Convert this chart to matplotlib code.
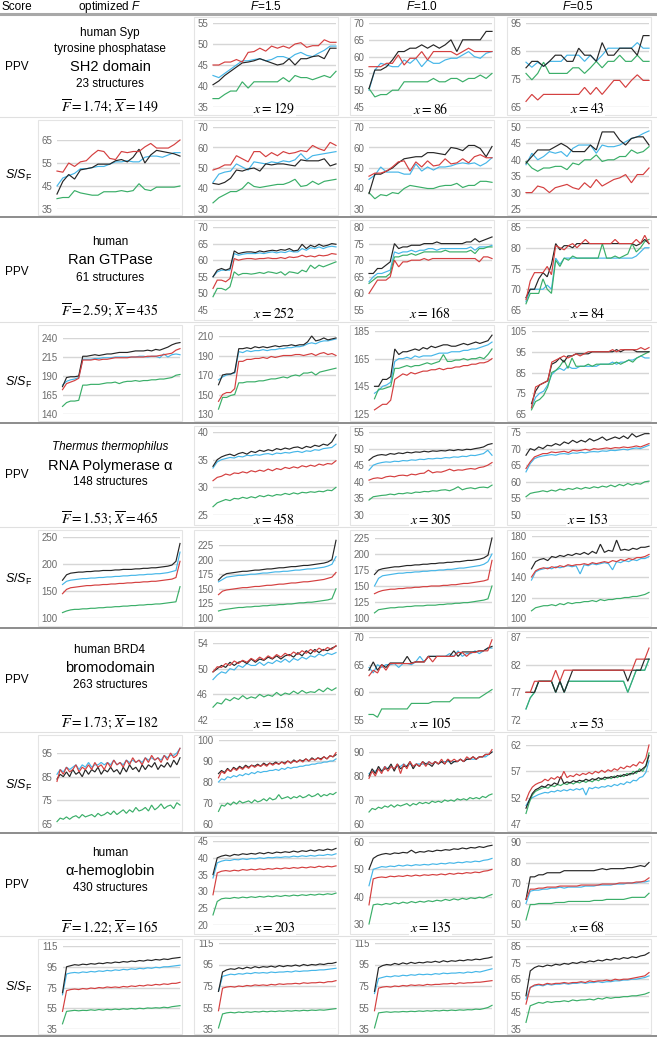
import numpy as np
import matplotlib
matplotlib.use("Agg")
import matplotlib.pyplot as plt
from matplotlib import font_manager
from matplotlib.lines import Line2D
from matplotlib.patches import Rectangle

# ---------------------------------------------------------------- data
col_titles = ["optimized $F$", "$F$=1.5", "$F$=1.0", "$F$=0.5"]
protein_lines = [
    [("human Syp", 8.5, ""), ("tyrosine phosphatase", 8.5, ""), ("SH2 domain", 10.5, ""), ("23 structures", 8.5, "")],
    [("human", 8.5, ""), ("Ran GTPase", 10.5, ""), ("61 structures", 8.5, "")],
    [("Thermus thermophilus", 8.5, "italic"), ("RNA Polymerase α", 10.5, ""), ("148 structures", 8.5, "")],
    [("human BRD4", 8.5, ""), ("bromodomain", 10.5, ""), ("263 structures", 8.5, "")],
    [("human", 8.5, ""), ("α-hemoglobin", 10.5, ""), ("430 structures", 8.5, "")],
]
f_bar = ["1.74", "2.59", "1.53", "1.73", "1.22"]
x_bar = ["149", "435", "465", "182", "165"]
x_counts = [[129, 86, 43], [252, 168, 84], [458, 305, 153], [158, 105, 53], [203, 135, 68]]

# --- SH2 domain
sh2_ppv_15 = dict(
    black=[40.3,41.2,42.5,43.5,44.5,45.5,45.7,46,46.5,46,45.5,45,45.3,46.5,45,46.5,46.5,47,47.2,46.5,49,49],
    blue=[42.5,42,43,44,45,46,46,46.3,46.5,46,46.3,47,47,46.5,47.5,48,47.3,47,47.8,48.5,49.5,49.5],
    red=[45,45,45.7,45.7,46.3,45.7,48,48.2,49,48.3,49.5,49,49.5,49,50,50.3,49.2,49.6,49.6,51,50.4,50.4],
    green=[37,37,38,38.8,38.8,41,39.5,41,41,41,41,41,42,41,42.5,42,42,41.5,42,42.5,42,43.5])
sh2_ppv_10 = dict(
    black=[50.5,56,56,57,59,61.5,61.5,62.5,62.5,63.5,62.5,63.5,62.5,63.5,65,61.5,65,65,65,65,67.5,67.5],
    blue=[50,56,58,57.5,57,57,59,58,59.5,57,59,58,58,59,59.5,59.5,60.5,61.5,60,59.5,61,61.5],
    red=[57,57,57,58,58,60.5,57.5,59.5,59.5,61.5,59,61.5,61.5,61.5,61.5,60.5,61.5,62.5,61.5,61.5,61.5,61.5],
    green=[50.5,48,48.7,48.7,50,50,52.5,52.5,52.5,52.5,52.5,53.5,52.5,52.5,53.5,53.5,52.5,53.5,53.5,54.5,53.5,55])
sh2_ppv_05 = dict(
    black=[79,81.3,81.3,79.5,81.3,83.5,83.5,81.3,81.3,86,83.5,83.5,81.3,88,83.5,83.5,86,86,86,83.5,90.5,90.5],
    blue=[81,79.2,81,79.5,81.3,81.3,81.3,83.5,83.5,83.5,81.3,83.5,81.3,83.5,86,86,86,86,86,88,86,86],
    red=[67,69.5,67.5,69.5,69.5,69.5,69.5,69.5,69.5,69.5,72,69.5,72,69.5,72,74.5,74.5,72,74.5,76.5,74.5,74.5],
    green=[77,74.7,77,81,77,77,77,77,79,79,77,79,81.3,79,81.3,81.3,83.5,81.3,81.3,83.5,81.3,81.3])
sh2_ssf_opt = dict(
    black=[41.5,47,50,48,52,52.5,53,54.5,54.5,54.5,56,56.5,55.5,57.5,61,55,58.5,60.5,60,59.5,59,58],
    blue=[45,48.5,49.5,50.5,52.5,52.5,53,53.5,53.5,54.5,55.5,55.5,56,55.5,55.5,57.5,58,58,57.5,58.5,59.5,59.5],
    red=[51.5,51,55,53.5,55.5,56,58.5,60.5,60,57,56.5,60,59.5,60,60,62,63.5,61.5,61.5,61.5,63,65],
    green=[39.5,40,40,43,42,41.5,41,41,42.5,42.5,42.5,43,42.5,43,46,43.5,43,44.5,44.5,44.5,44.5,45])
sh2_ssf_15 = dict(
    black=[42.5,42,43,45,49,48.5,49.5,50,48.5,52,51.5,52,52,51.5,51,54,53.5,53.5,53.5,54.5,51,52],
    blue=[43,47,48,48.5,52,50.5,49,53,52.5,52,53,52.5,53.5,53,54,57,54,56,56.5,57,57.5,58],
    red=[49,50,51.5,51.5,56,54.5,53,58,58,55.5,57.5,56,58,57,57.5,58.5,58,61,59.5,58.5,62.5,61],
    green=[33,35.5,37,38.5,38.5,40,43,41,40.5,41,41.5,42,42,43,44.5,41,41.5,43.5,42,43.5,44,44.5])
sh2_ssf_10 = dict(
    black=[37.5,47,47,48.5,50,52.5,54.5,55,55.5,55.5,57.5,57.5,57,56.5,60,59.5,58.5,61,61,59.5,55.5,60.5],
    blue=[44.5,46.5,50.5,48,48,48,47,47,52,48.5,50.5,49,50.5,50.5,51,52,52.5,52,52.5,51,52.5,55],
    red=[46,47.5,47.5,48.5,50.5,53,53.5,48.5,53,50.5,53.5,51,51.5,54.5,52,52.5,54.5,52.5,55.5,56.5,55,55],
    green=[38,35,37,36.5,38,37.5,40,41.5,41,40.5,40,40,41,41.5,41.5,42.5,40.5,41.5,41.5,43.5,43.5,43])
sh2_ssf_05 = dict(
    black=[39,41,43,43,43,44,45,44,42.5,42.5,42.5,44.5,43,48.5,48.5,48.5,46,44.5,46.5,47,47,44.5],
    blue=[38.5,42,40,41,42.5,42,42.5,41,43.5,44.5,44.5,44.5,42,44.5,44,44,44.5,45.5,46.5,47,48,48.8],
    red=[30,30,32,31.5,30,31.5,32,32.5,31.5,31,33,31.5,34,32,33,34,34.5,35.5,33,35.5,35.5,37.5],
    green=[39.5,37.5,36.5,37.5,37.5,38,38,37,39,38.5,40,40,41.5,39.5,40,40,41,41,43,42,42.5,44])

# --- Ran GTPase
ran_ppv_15 = dict(
    black=[55,57,57.5,57,57.5,62.8,62,62.3,62.5,62.5,62.3,62.8,62.5,62.8,63,62.8,63.2,63,63.5,62.8,63,64.8,63.5,64.5,64,64.8,64.2,64.5,65,64.8],
    blue=[55,56.5,57,57,57,62,61.5,61.8,62,62,62,62.2,62,62.3,62.5,62.2,62.5,62.3,62.8,62.5,62.5,63.5,63,63.8,63.5,64,63.5,64,64.2,64],
    red=[51.5,54,54,53.5,54.5,60.5,60,60.3,60.5,60.5,60.3,60.5,60.5,60.7,60.5,60.5,60.8,60.5,61,60.8,61,61.5,61,61.3,61,61.5,61.3,61.5,62,61.8],
    green=[49,51.5,51.5,51,52,56.5,55.5,56,56,55.8,56,56.3,56,56.5,56.3,56,56.5,55.5,56.5,56.3,56,57,56.5,58.5,57.5,58.5,58,58.5,59,59.5])
ran_ppv_10 = dict(
    black=[66,66,67.5,67.5,68.5,69.5,75,73.5,74,74,74.5,74.5,74.5,75,75,75,75.5,75,75,75,75,75,75,75.5,75.5,76.5,75.5,76,76.5,77],
    blue=[63.5,65,66,66,66.5,67,72.5,72,72.5,72.5,73,72.5,73,73,73.5,73.5,73,73.5,73.5,73.5,73.5,73.5,73.5,73.5,74,73,74,74,74,74.5],
    red=[60,62,64,64,64,65,70,68,69.5,69.5,70,70,70,70.5,70,70.5,70.5,70.5,70.5,70.5,70.5,70.5,70.5,70.5,70.5,70.5,69.5,71,71,70.5],
    green=[63,64,65,65,65,66,71,71,71.5,71.5,72,71.5,72,72.5,72.5,72.5,72.5,72.5,73,72.5,72.5,72.5,72.5,72.5,73,72,73.5,73.5,74,74])
ran_ppv_05 = dict(
    black=[68,70,70,72.5,74,73,76,81,79.5,80.5,80.5,80,81,81,81,81,81,81,81,81,81,81,81,81,81,81,80.5,81,82,81],
    blue=[67,70,70,70,70,71,70,77.5,76,77.5,77.5,77.5,77.5,77.5,77.5,77.5,77.5,77.5,77.5,77.5,77.5,77.5,77.5,77.5,77.5,77.5,78,79,80,80],
    red=[67.5,72,74,74,74,75.5,73.5,80.5,80,79.5,80.5,81,80,81,82,81,81,81,81,81,81,82,81,81,81,81,82,81,83,81],
    green=[66.5,69,69,69,72.5,70,69,77,75.5,77.5,77,78,77.5,77.5,77.5,77.5,77.5,77.5,81,77.5,77.5,78,77.5,78,78.5,81,79,80,81.5,82])
ran_ssf_opt = dict(
    black=[176,188,189,189,190,216,216,217,218,217,218,219,219,220,221,221,221,222,223,223,223,224,223,225,224,226,228,231,233,234],
    blue=[178,183,185,186,188,212,212,212,213,213,214,214,214,215,215,215,215,215,215,216,216,215,216,216,214,219,215,218,219,218],
    red=[172,180,182,184,187,211,211,211,212,211,212,212,213,214,214,214,214,215,215,215,215,216,216,216,217,218,219,220,224,226],
    green=[150,155,157,157,158,178,178,179,179,179,180,181,181,182,180,182,183,183,184,183,184,184,185,185,186,186,187,188,191,192])
ran_ssf_15 = dict(
    black=[160,170,171,171,173,197,197,198,197,199,198,199,198,199,200,199,200,200,201,200,201,201,204,210,205,206,208,206,207,208],
    blue=[165,168,170,171,172,194,193,195,194,195,195,196,195,196,196,197,197,198,198,199,199,200,202,203,202,204,205,205,206,207],
    red=[143,150,152,152,156,184,184,186,186,187,187,188,187,189,188,189,190,190,190,191,191,190,191,192,190,192,193,191,192,190],
    green=[135,147,147,149,150,162,162,163,163,163,164,164,165,166,166,167,168,167,169,170,169,172,172,173,170,173,174,175,176,177])
ran_ssf_10 = dict(
    black=[145,145,150,150,152,172,168,170,170,171,172,171,173,172,174,173,174,175,175,174,174,175,176,175,176,177,176,177,178,182],
    blue=[140,142,145,146,148,163,165,165,166,165,167,166,167,167,167,168,169,169,169,170,170,170,171,171,172,172,173,174,175,177],
    red=[128,130,132,132,135,150,152,154,153,155,154,155,156,156,157,157,158,157,158,158,159,159,160,160,161,161,162,162,163,165],
    green=[136,143,143,144,145,158,158,159,160,159,160,160,161,162,161,162,163,168,163,163,164,164,165,164,165,165,166,165,168,172])
ran_ssf_05 = dict(
    black=[70,76,79,80,81,89,90,92,90,93,93,94,94,94,94,95,95,95,95,95,95,96,95,96,96,96,95,95,95,95],
    blue=[68,73,75,76,79,84,86,87,86,88,87,87,88,88,88,88,88,89,89,89,90,89,90,90,91,91,92,93,92,92],
    red=[68,78,79,80,81,90,91,92,93,92,93,94,93,94,95,95,95,95,95,95,96,95,96,96,96,96,96,97,96,97],
    green=[67,71,72,74,78,85,86,88,91,87,92,88,88,88,89,88,89,89,89,89,89,90,89,90,91,90,92,93,94,95])

# --- RNA Polymerase alpha
rna_ppv_15 = dict(
    black=[33.8,35,35.5,35.8,36,35.7,36.1,36.3,36,36.5,36.3,36.7,36.5,36.8,36.6,37,36.8,37.1,36.9,37.2,37.3,37,37.4,37.2,37.6,37.4,37.8,37.6,38.2,39.5],
    blue=[33.5,34.6,35,35.2,35.4,35.3,35.6,35.5,35.8,35.7,35.9,35.8,36,36.1,35.9,36.2,36.1,36.3,36.2,36.4,36.5,36.3,36.6,36.5,36.8,36.7,37,37.1,37.2,37.8],
    red=[31.2,31.8,32,32.4,32.2,32.6,32.5,32.8,32.6,33,32.8,33.1,32.9,33.3,33,33.4,33.2,33.6,33.4,33.7,33.5,33.9,33.7,34,33.8,34.2,34,34.3,34.2,34.8],
    green=[26.5,27.2,27.5,27.8,27.6,28,27.9,28.2,28,28.3,28.1,28.5,28.3,28.6,28.4,28.7,28.6,28.9,28.7,29,28.8,29.1,29,29.2,29.1,29.3,29.2,29.5,29.4,30])
rna_ppv_10 = dict(
    black=[46.5,47.5,48,48.2,48,48.5,48.3,48.7,48.5,48.9,48.7,49,48.9,49.2,49,49.3,49.2,49.4,49.3,49.6,49.4,49.7,49.5,49.8,49.7,50,50.2,50.5,51.2,51.5],
    blue=[43.5,45,45.5,45.8,46,45.9,46.2,46.1,46.4,46.3,46.6,46.5,46.8,46.7,47,46.9,47.1,47,47.3,47.2,47.5,47.4,47.7,47.6,48,47.9,48.2,48.5,49.5,48],
    red=[40.5,41,41.2,41,41.5,41.7,41.5,41.9,42,41.8,42.3,42.1,42.5,42.6,43.5,42.7,43,42.9,43.3,43.8,43.3,43.6,43.5,43.8,44,43.8,44.3,44.5,45,45.8],
    green=[34.5,35.5,35.7,35.9,36,36.3,36.1,36.5,36.4,36.7,36.5,36.9,36.8,37.1,37,37.3,37.2,37.5,37.6,37.3,37.8,38.5,37.6,38,38.2,37.9,38.3,38.4,38.2,39])
rna_ppv_05 = dict(
    black=[68,70,69.5,70.5,70,71,70.8,71.5,71,72,71.5,72.5,71.8,72.5,72,73,72.3,72.8,73.5,72.5,73,73.5,73,73.8,73,74.5,73.5,74,74.5,74.5],
    blue=[63,65.5,67,67.5,67.8,68,68.2,68,68.4,68.5,68.3,68.7,68.6,68.9,68.7,69,69.1,69,69.3,69.2,69.5,69.4,69.6,69.8,69.6,70,70.2,70,70.5,71],
    red=[64,66,67.5,68,68.5,68.5,69,68.8,69,69.2,68.8,69.5,69.3,69.5,69.8,69.5,70,69.8,70,70.2,70,70.3,70.2,70.5,70.3,70.5,70.8,70.5,71,71.5],
    green=[55.5,56.5,56.8,57,57.3,57,57.5,57.2,57.8,57.5,58,57.7,58.2,57.8,58.3,58,58.5,58.2,58.7,58.4,59,58.5,59.2,58.8,59.5,59,59.5,59.3,60,60.2])
rna_ssf_opt = dict(
    black=[170,180,183,184,185,185,186,186,187,187,188,188,188,189,189,190,190,190,191,191,192,192,193,193,194,195,196,198,205,238],
    blue=[162,168,170,171,172,173,173,174,174,175,175,176,176,177,177,178,178,179,179,180,180,181,181,182,182,183,184,186,188,222],
    red=[145,153,156,157,158,159,160,160,161,161,162,162,163,163,164,164,165,165,166,166,167,167,168,168,169,170,171,172,175,205],
    green=[110,113,115,116,116,117,117,118,118,119,119,120,120,121,121,122,122,123,123,124,124,125,125,126,126,127,128,129,130,158])
rna_ssf_15 = dict(
    black=[165,172,176,177,178,179,180,180,181,182,182,183,184,184,185,186,186,187,188,188,189,190,190,191,192,193,194,196,200,233],
    blue=[162,166,170,171,172,173,173,174,175,175,176,177,177,178,179,179,180,180,181,182,182,183,184,184,185,186,187,189,192,205],
    red=[140,146,148,149,150,151,152,152,153,154,154,155,156,156,157,158,158,159,160,160,161,162,162,163,164,165,166,168,170,178],
    green=[112,114,115,116,117,118,118,119,119,120,120,121,121,122,122,123,123,124,124,125,126,126,127,127,128,129,130,131,133,150])
rna_ssf_10 = dict(
    black=[168,175,177,178,179,180,180,181,182,182,183,183,184,184,185,185,186,186,187,187,188,188,189,190,190,191,192,194,198,225],
    blue=[150,162,166,167,168,169,170,170,171,171,172,172,173,173,174,174,175,175,176,176,177,178,178,179,180,181,182,184,188,200],
    red=[138,141,143,144,145,145,146,146,147,147,148,148,149,149,150,150,150,151,151,152,152,153,154,154,155,156,157,158,160,190],
    green=[108,113,114,115,116,116,117,117,118,118,119,119,119,120,120,120,121,121,122,122,123,123,124,124,125,126,127,128,130,150])
rna_ssf_05 = dict(
    black=[148,155,157,158,156,160,159,161,160,162,161,163,162,164,162,165,163,172,164,166,165,176,166,167,166,168,167,169,169,170],
    blue=[137,145,147,148,149,148,150,149,150,151,150,151,143,152,151,153,152,153,154,153,147,155,154,156,155,157,156,158,158,160],
    red=[140,146,148,149,148,150,149,151,150,152,151,152,152,153,152,154,153,154,155,154,156,155,157,156,158,157,159,159,160,162],
    green=[107,110,111,112,112,113,112,114,113,115,114,115,115,116,116,117,116,118,117,118,118,119,119,120,120,121,121,122,123,125])

# --- BRD4 bromodomain
brd_ppv_15 = dict(
    black=[49.5,50,50.5,50.2,51,50.5,51,51.2,50.8,51.5,51,51.5,51.3,51.8,51.5,52,51.5,52,52.2,51.8,52.5,52,52.8,52.3,53,52.5,53,52.8,53.2,53.5],
    blue=[48.3,49,49.5,49.3,50,49.8,50.5,50.2,50.8,50.5,50.5,51,50.5,51,50.8,51.3,51,51.5,51,51.6,51.3,51.8,51.5,52,51.8,52.3,52,52.4,52.2,52.5],
    red=[49.5,50.3,50.2,50.8,50.5,51.2,50.8,51.3,51,51.6,51.2,51.8,51.4,52,51.6,52.2,51.8,52.4,52,52.6,52.2,52.8,52.4,53,52.6,53.2,52.8,53.3,53,53.6],
    green=[44,44.7,44.5,45.3,45,45.5,45.2,45.8,45.3,45.6,45.4,46,45.6,45.9,45.7,46.3,45.8,46.2,46,46.5,46.1,46.6,46.2,46.4,46.3,46.8,46.4,47,46.6,47])
brd_ppv_10 = dict(
    black=[64,65.5,64,65,64.5,65.3,65.3,65.3,65.3,66.5,65.3,65.5,65.5,65.5,66.5,66.5,66.5,66.5,66.5,66.5,67.5,66.5,67.3,67.3,67.3,67.3,67.5,67.5,68,68.3],
    blue=[64.5,63.5,65,64.5,65,65,65.2,64.5,65.2,65.2,65,65.5,66.5,65.5,66.5,66.5,66.5,66.5,66.5,67,66.5,67.5,66.5,67,67,67.5,67,67.5,68,68],
    red=[63,64,63.5,65,64,65.2,65.2,65.2,65.2,65.2,65.2,65.5,65.5,65.5,66.5,65.5,66.5,66.5,66.5,66.5,66.5,67.2,67.2,66.5,67.2,67.2,67.5,67.5,67.5,69.5],
    green=[56,56,55.5,57,57,57,57,57,57,57,58,58,58,58,58,58.3,58.3,58.3,58.3,58.3,59,59,59,59,59,59,59,59.5,60,60.5])
brd_ppv_05 = dict(
    black=[77,77,77,79,79,79,79,77,79,77,79,81,81,81,81,81,81,81,81,81,81,81,81,81,79,81,81,81,83,83],
    blue=[74,76,77,79,79,79,79,77,79,77,79,79,79,79,79,79,79,79,79,79,79,79,79,79,77,79,81,81,81,83],
    red=[77,77,79,79,79,79,79,81,79,81,81,81,81,81,81,81,81,81,81,81,81,81,81,81,81,81,83,83,83,85],
    green=[74,76,77,79,79,79,79,77,79,77,79,79,79,79,79,79,79,79,79,79,79,79,79,79,77,79,81,81,81,83])
brd_ssf_opt = dict(
    black=[84,86,85,87,85,88,86,87,85,88,86,88,87,89,86,88,87,89,87,88,86,89,87,90,88,89,87,90,88,90,89,91,88,90,89,91,89,92,90,93],
    blue=[86,88,87,89,88,89,90,88,90,89,91,89,90,90,91,90,91,90,92,90,91,90,92,91,92,91,92,91,93,92,93,92,93,92,94,93,94,94,95,97],
    red=[83,88,86,89,87,88,90,87,89,88,90,88,91,89,90,88,91,89,92,90,91,89,92,90,93,91,92,90,93,91,94,92,93,91,94,92,95,93,94,97],
    green=[66,67.5,67,68,67,68,68.5,67.5,69,68,68.5,69,68,69.5,68.5,69,70,69,70.5,69,70,71,69.5,71,70,72,70.5,71,72,70.5,73,71,72,73.5,71.5,72.5,73,71.5,74,73])
brd_ssf_15 = dict(
    black=[84,85.5,84.5,86.5,85,87,86,87.5,86.5,88,87,88,87.5,88.5,87.5,89,88,89,88.5,89.5,88.5,89.5,89,90,89,90.5,89.5,90.5,90,91,90,91.5,90.5,91.5,91,92,91,92.5,92,93],
    blue=[80,81.5,81,82.5,82,83,82.5,83.5,83,84,83.5,84.5,84,85,84.5,85,85,85.5,85.5,86,85.5,86.5,86,87,86.5,87,87,87.5,87.5,88,88,88.5,88.5,89,89,89.5,89.5,90,90,91],
    red=[82,85,84,86,85,86.5,85.5,87,86,87.5,86.5,88,87,88,87.5,88.5,87.5,89,88,89,88.5,89.5,88.5,90,89,90,89.5,90.5,89.5,91,90,91,90.5,91.5,90.5,92,91,92.5,92,94],
    green=[66,69,68.5,70,69,70.5,69.5,71,70,70.5,71,70,71.5,70.5,71,72,71,72.5,71.5,72,74,72,72.5,73,72,73,72.5,73.5,72.5,73,74,73,73.5,74.5,73,74,73.5,74.5,74,75])
brd_ssf_10 = dict(
    black=[80,83,81,84,82,83,83,85,82,85,83,84,84,86,83,85,84,86,85,85,84,86,85,86,85,87,85,86,86,87,86,87,87,88,87,88,88,89,89,90],
    blue=[81,82,82,83,82,84,83,84,83,84,84,85,84,85,84,85,85,85,85,86,85,86,85,86,86,86,86,86,86,87,86,87,87,87,87,88,88,88,89,90],
    red=[79,82,80,83,81,84,82,84,83,85,81,85,83,86,84,85,84,86,84,86,85,86,85,87,85,87,86,87,86,87,86,88,87,88,87,88,88,89,89,91],
    green=[65,66.5,66,67,66.5,67.5,67,68,67,68,67.5,68,68.5,67.5,68.5,68,69,68.5,69,68.5,69.5,69,69.5,69,70,69.5,70,69.5,70.5,70,70.5,70,71,70.5,71,70.5,71.5,71,72,72.5])
brd_ssf_05 = dict(
    black=[50,51.5,52.8,53.5,53.8,54.2,54,54.5,54.3,54.8,54.5,56,54.7,55,54.8,55.2,55,55.3,55.1,55.5,55.2,55.6,55.4,55.8,55.5,55.9,55.7,56,55.8,56.2,56,56.4,56.2,56.6,56.5,57,57,57.5,58,60],
    blue=[50.5,51.5,52,52.3,52.6,52.8,53,52.9,53.2,53.1,53.4,53.2,53.5,53.3,53.6,53.4,53.7,53.5,53.8,52.5,53.9,53.7,54,53.8,54.1,54,54.3,54.1,54.5,54.3,54.7,54.5,55,54.8,55.3,55.2,55.8,56,56.8,59],
    red=[51.5,53,54,54.5,54.8,55,55.5,55.2,55.8,55.5,56,55.6,57,55.8,56.2,56,56.5,56.2,56.6,56.4,56.8,56.5,57,56.7,57.2,56.8,57.3,57,57.5,57.2,57.8,57.5,58,57.8,58.3,58,58.8,58.5,59.5,62],
    green=[49,51,52.5,53.2,53.5,53.8,54,53.8,54.3,54.1,54.5,54.3,54.7,54.5,54.9,54.6,55,54.8,55.2,54.9,55.3,55,55.5,55.2,55.7,55.4,55.9,55.6,56.1,55.8,56.3,56,56.6,56.3,57,56.6,57.5,57,58,60.5])

# --- alpha-hemoglobin
hb_ppv_15 = dict(
    black=[35,40,40.5,40.8,40.5,41,40.8,41.2,41,41.3,41.1,41.5,41.2,41.6,41.3,41.7,41.5,41.8,41.6,42,41.7,42.1,41.9,42.3,42,42.4,42.2,42.6,42.3,42.8],
    blue=[34,38.5,39,39.3,39.2,39.5,39.4,39.7,39.5,39.8,39.7,40,39.8,40.1,40,40.2,40.1,40.3,40.2,40.5,40.3,40.6,40.4,40.7,40.5,40.8,40.7,41,40.8,41.2],
    red=[29,35.5,36,36.2,36,36.3,36.1,36.5,36.3,36.6,36.4,36.7,36.5,36.8,36.6,36.9,36.7,37,36.8,37.1,36.9,37.2,37,37.3,37.1,37.5,37.2,37.5,37.3,37.6],
    green=[23,27,27.8,28,27.9,28.2,28,28.3,28.1,28.4,28.2,28.5,28.3,28.6,28.4,28.7,28.5,28.8,28.6,28.9,28.7,29,28.8,29.1,28.9,29.2,29,29.3,29.1,29.5])
hb_ppv_10 = dict(
    black=[50,54,55,55.5,55.8,55.5,56,55.8,56.2,56,57,56,56.5,56.3,56.8,56.5,57,56.8,57.2,57,57.5,57.3,57.8,57.5,58,57.8,58.3,58,58.5,58.8],
    blue=[44,50,50.5,51,50.8,51.2,51,51.5,51.2,51.6,51.3,51.7,51.5,51.8,51.6,52,51.8,52.2,52,52.4,52.2,52.6,52.4,52.8,52.6,53,52.8,53.3,53.5,54],
    red=[37,46.5,47,47.2,47,47.5,47.3,47.6,47.4,47.8,47.5,47.9,47.6,48,47.8,48.1,47.9,48.3,48,48.5,48.2,48.6,48.4,48.8,48.6,49,48.8,49.3,49.5,50],
    green=[30,37,37.3,37,37.5,37.2,37.8,37.4,38,37.6,38.2,37.8,38.3,38,38.5,38.2,38.7,38.4,39,38.6,39.2,38.8,39.4,39,39.6,39.3,39.8,39.5,40.2,40.8])
hb_ppv_05 = dict(
    black=[62,73,73,74,74,75,75,75,75,76,76,76,76,76,76,76,76,76.5,77,76.5,77,77,77,77,77.5,77.5,78,78.5,78,80],
    blue=[60,66,66.5,66.5,67,67,67.5,67.5,68,67.5,68,68,68,68,68.5,68.5,68.5,69,69,69,69,69.5,69.5,69.5,70,70,70,70.5,70.5,71],
    red=[62,67,67,67.5,67.5,68,68,68,68.5,68.5,68.5,68.5,68.5,69,69,69,69,69,69.5,69.5,69.5,69.5,70,70,70,70,70.5,70.5,71,72.5],
    green=[52,59.5,59.5,60,60,60,60,60.5,60.5,60.5,61,61,61,61,61,61,61.5,61.5,61.5,62,62,62,62,62,62.5,63,63,63,63,65])
hb_ssf_opt = dict(
    black=[70,95,96,97,96.5,97.5,97,98,97.5,98.5,98,99,98.5,99.5,99,100,99.5,100.5,100,101,100.5,101.5,101,102,101.5,102.5,102,103,103.5,104],
    blue=[68,88,89,89.5,89,90,89.5,90.5,90,91,90.5,91.5,91,92,91.5,92.5,92,93,92.5,93.5,93,94,93.5,94.5,94,95,95,95.5,96,96.5],
    red=[52,72,73,73.5,73,74,73.5,74.5,74,75,74.5,75.5,75,75.5,75,76,75.5,76.5,76,77,76.5,77.5,77,78,77.5,78.5,78,79,79,80],
    green=[40,52,52.5,53,52.5,53,52.8,53.5,53,53.8,53.2,54,53.5,54.2,53.7,54.5,54,54.8,54.3,55,54.5,55.3,55,55.5,55.2,56,55.5,56.5,57,57.5])
hb_ssf_15 = dict(
    black=[70,88,90,91,90.5,92,91,92.5,91.5,93,92,93,92.5,93.5,92.5,94,93,94,93.5,94.5,93.5,95,94,95,94.5,95.5,95,96,96,97],
    blue=[70,84,85,86,85.5,86.5,86,87,86.5,87.5,87,87.5,87,88,87.5,88,88,88.5,88,89,88.5,89,89,89.5,89.5,90,90,90.5,91,91.5],
    red=[52,73,74,74.5,74,75,74.5,75.5,75,76,75.5,76,75.5,76.5,76,77,76.5,77,77,77.5,77,78,77.5,78,78,78.5,78,79,79,80],
    green=[36,49,50,50.5,50,50.8,50.3,51,50.5,51.2,50.8,51.5,51,51.6,51.2,51.8,51.4,52,51.6,52.2,51.8,52.4,52,52.6,52.3,52.8,52.5,53,53.5,54])
hb_ssf_10 = dict(
    black=[70,92,94,95,94.5,96,95,96.5,95.5,97,96,97,96.5,97.5,97,98,97,98.5,97.5,98.5,98,99,98.5,99.5,99,100,99.5,100.5,101,102],
    blue=[68,82,83,84,83.5,84.5,84,85,84.5,85.5,85,86,85.5,86,85.5,86.5,86,87,86.5,87,87,87.5,87,88,87.5,88.5,88,89,90,91],
    red=[52,73,74,74.5,74,75,74.5,75.5,75,76,75.5,76,75.5,76.5,76,76.5,76.5,77,77,77.5,77,78,77.5,78,78,78.5,78.5,79,79.5,80],
    green=[36,50,50.5,51,50.5,51,50.8,51.3,51,51.5,51.2,51.8,51.4,52,51.6,52.2,51.8,52.4,52,52.6,52.2,52.8,52.5,53,52.8,53.5,53.2,54,55,57])
hb_ssf_05 = dict(
    black=[55,70,72,73,72.5,73.5,73,74,73.5,74.5,74,75,74.5,75.5,75,76,75.5,76.5,76,77,76.5,77.5,77,78,77.5,78.5,78,79,79.5,81],
    blue=[53,60,61,61.5,61,62,61.5,62,62,62.5,62,62.5,62.5,63,62.5,63,63,63.5,63,63.5,63.5,64,64,64.5,64.5,65,65,65.5,66,67],
    red=[50,60,61.5,62,61.5,62.5,62,62.5,62.5,63,62.5,63,63,63.5,63,64,63.5,64,64,64.5,64,65,64.5,65,65,65.5,66,66.5,67,69],
    green=[39,49,50,51,50.5,51.5,51,51.5,51.5,52,51.5,52.5,52,52.5,52.5,53,52.5,53.5,53,54,53.5,54,54,54.5,54.5,55,55,55.5,56,57])

# y tick labels of each chart
sh2_ticks = [[35, 40, 45, 50, 55], [45, 50, 55, 60, 65, 70], [65, 75, 85, 95],
             [35, 45, 55, 65], [30, 40, 50, 60, 70], [30, 40, 50, 60, 70], [25, 30, 35, 40, 45, 50]]
ran_ticks = [[45, 50, 55, 60, 65, 70], [55, 60, 65, 70, 75, 80], [65, 70, 75, 80, 85],
             [140, 165, 190, 215, 240], [130, 150, 170, 190, 210], [125, 145, 165, 185], [65, 75, 85, 95, 105]]
rna_ticks = [[25, 30, 35, 40], [30, 35, 40, 45, 50, 55], [50, 55, 60, 65, 70, 75],
             [100, 150, 200, 250], [100, 125, 150, 175, 200, 225], [100, 125, 150, 175, 200, 225], [100, 120, 140, 160, 180]]
brd_ticks = [[42, 46, 50, 54], [55, 60, 65, 70], [72, 77, 82, 87],
             [65, 75, 85, 95], [60, 70, 80, 90, 100], [60, 70, 80, 90], [47, 52, 57, 62]]
hb_ticks = [[20, 25, 30, 35, 40, 45], [30, 40, 50, 60], [50, 60, 70, 80, 90],
            [35, 55, 75, 95, 115], [35, 55, 75, 95, 115], [35, 55, 75, 95, 115], [35, 45, 55, 65, 75, 85]]

# ---------------------------------------------------------------- layout (pixels)
W, H = 657, 1038
COL_LEFT = [38, 194, 350, 507]
COL_W = 144
COL_CENTER = [110, 266, 422, 578]
BLOCK_TOP = [14, 217, 423, 628, 833]
BLOCK_MID = [117, 322, 527, 732, 936]
BLOCK_BOT = [217, 423, 628, 833, 1036]
# pixel rows of top and bottom gridline, per chart (PPV x3, S/S_F x4)
GRID_Y = [
    [(23, 107), (23, 107), (23, 107), (140, 209), (127, 209), (127, 209), (127, 209)],
    [(227, 310), (227, 310), (227, 310), (338, 414), (336, 414), (331, 414), (331, 414)],
    [(432, 515), (432, 515), (432, 515), (537, 618), (545, 618), (538, 618), (536, 618)],
    [(643, 720), (637, 720), (637, 720), (753, 824), (740, 824), (752, 824), (745, 824)],
    [(841, 925), (842, 924), (842, 924), (946, 1029), (943, 1029), (943, 1029), (946, 1029)],
]
TEXT_Y = [[33, 49, 67, 84, 106], [242, 260, 278, 310], [447, 466, 482, 518],
          [650, 668, 685, 722], [853, 871, 888, 927]]
PPV_Y = [67, 272, 475, 680, 885]
SSF_Y = [175, 382, 579, 785, 987]

COLORS = dict(black="#262626", blue="#45b6e8", red="#d43f3f", green="#3aae68")
DRAW_ORDER = ["blue", "green", "black", "red"]

names = {f.name for f in font_manager.fontManager.ttflist}
SANS = "Liberation Sans Narrow" if "Liberation Sans Narrow" in names else "Liberation Sans"
plt.rcParams["font.family"] = [SANS, "DejaVu Sans"]
plt.rcParams["mathtext.fontset"] = "custom"
plt.rcParams["mathtext.rm"] = SANS
plt.rcParams["mathtext.it"] = SANS + ":italic"
plt.rcParams["mathtext.bf"] = SANS + ":bold"

fig = plt.figure(figsize=(W / 100, H / 100), dpi=100)
fig.patch.set_facecolor("white")


def fx(x):
    return x / W


def fy(y):
    return 1 - y / H


def hline(y, color, lw):
    fig.add_artist(Line2D([0, 1], [fy(y), fy(y)], color=color, lw=lw, transform=fig.transFigure))


def ftext(x, y, s, **kw):
    kw.setdefault("ha", "center")
    kw.setdefault("va", "center")
    fig.text(fx(x), fy(y), s, **kw)


def chart(series, ticks, col, box_top, box_bot, grid_top, grid_bot):
    fig.add_artist(Rectangle((fx(COL_LEFT[col]), fy(box_bot)), COL_W / W, (box_bot - box_top) / H,
                             transform=fig.transFigure, fill=False, ec="#e4e4e4", lw=0.8))
    nchar = max(len(str(t)) for t in ticks)
    x0 = COL_LEFT[col] + 8 + 5.5 * nchar
    x1 = COL_LEFT[col] + COL_W - 2
    ax = fig.add_axes([fx(x0), fy(grid_bot), (x1 - x0) / W, (grid_bot - grid_top) / H])
    ax.patch.set_alpha(0)
    for s in ax.spines.values():
        s.set_visible(False)
    ax.set_xlim(0, 1)
    ax.set_ylim(ticks[0], ticks[-1])
    ax.set_xticks([])
    ax.set_yticks(ticks)
    ax.set_yticklabels([str(t) for t in ticks])
    ax.tick_params(axis="y", length=0, pad=3.5, labelsize=7, labelcolor="#6b6b6b")
    ax.grid(axis="y", color="#d6d6d6", lw=1.0)
    ax.set_axisbelow(True)
    for key in DRAW_ORDER:
        ys = series[key]
        ax.plot(np.linspace(0, 1, len(ys)), ys, color=COLORS[key], lw=0.85,
                clip_on=False, solid_joinstyle="miter")
    return (x0 + x1) / 2


# ---------------------------------------------------------------- table frame
ftext(17, 7, "Score", fontsize=8.5)
for c, t in enumerate(col_titles):
    ftext(COL_CENTER[c], 7, t, fontsize=8.5)
hline(14, "#a8a8a8", 2.2)
for b in range(5):
    hline(BLOCK_MID[b], "#e0e0e0", 0.8)
    hline(BLOCK_BOT[b], "#8c8c8c", 1.4)

blocks = [
    ([sh2_ppv_15, sh2_ppv_10, sh2_ppv_05], [sh2_ssf_opt, sh2_ssf_15, sh2_ssf_10, sh2_ssf_05], sh2_ticks),
    ([ran_ppv_15, ran_ppv_10, ran_ppv_05], [ran_ssf_opt, ran_ssf_15, ran_ssf_10, ran_ssf_05], ran_ticks),
    ([rna_ppv_15, rna_ppv_10, rna_ppv_05], [rna_ssf_opt, rna_ssf_15, rna_ssf_10, rna_ssf_05], rna_ticks),
    ([brd_ppv_15, brd_ppv_10, brd_ppv_05], [brd_ssf_opt, brd_ssf_15, brd_ssf_10, brd_ssf_05], brd_ticks),
    ([hb_ppv_15, hb_ppv_10, hb_ppv_05], [hb_ssf_opt, hb_ssf_15, hb_ssf_10, hb_ssf_05], hb_ticks),
]

for b, (ppv, ssf, ticks) in enumerate(blocks):
    ftext(17, PPV_Y[b], "PPV", fontsize=8.5)
    ftext(19, SSF_Y[b], r"$S$/$S_\mathrm{F}$", fontsize=9)

    # protein description in the optimized-F cell
    for (txt, size, style), y in zip(protein_lines[b], TEXT_Y[b]):
        ftext(COL_CENTER[0], y, txt, fontsize=size, style=style or "normal")
    ftext(COL_CENTER[0], TEXT_Y[b][-1],
          r"$\overline{F}=%s;\,\overline{X}=%s$" % (f_bar[b], x_bar[b]),
          fontsize=10, math_fontfamily="stix")

    for i, series in enumerate(ppv):
        gt, gb = GRID_Y[b][i]
        cx = chart(series, ticks[i], i + 1, BLOCK_TOP[b] + 3, BLOCK_MID[b] - 2, gt, gb)
        ftext(cx, BLOCK_MID[b] - 8, r"$x = %d$" % x_counts[b][i], fontsize=10,
              math_fontfamily="stix", zorder=5,
              bbox=dict(facecolor="white", edgecolor="none", pad=0.3))
    for i, series in enumerate(ssf):
        gt, gb = GRID_Y[b][3 + i]
        chart(series, ticks[3 + i], i, BLOCK_MID[b] + 3, BLOCK_BOT[b] - 2, gt, gb)

fig.savefig("out.png", dpi=100, facecolor="white")
